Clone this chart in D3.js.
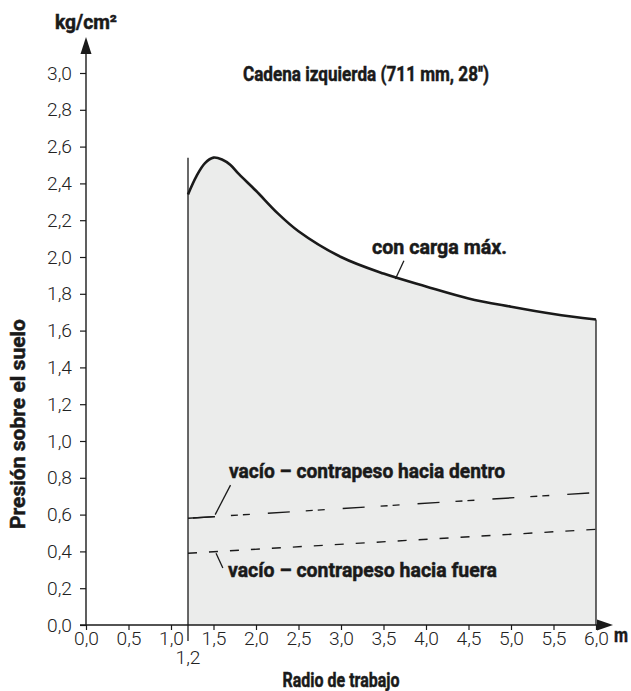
<!DOCTYPE html>
<html>
<head>
<meta charset="utf-8">
<script src="https://cdn.jsdelivr.net/npm/d3@7"></script>
<style>
  body { margin: 0; background: #fff; }
  svg { display: block; }
  text { font-variant-ligatures: none; }
</style>
</head>
<body>
<div id="container"></div>
<script>
// Data
const radius = [1.2, 1.3, 1.4, 1.5, 1.6, 1.7, 1.8, 2.0, 2.25, 2.5, 3.0, 3.5, 4.0, 4.5, 5.0, 5.5, 6.0];
const maxLoad = [2.34, 2.44, 2.51, 2.54, 2.53, 2.5, 2.45, 2.36, 2.24, 2.14, 2.0, 1.91, 1.84, 1.775, 1.73, 1.69, 1.66];
const emptyRadius = [1.2, 6.0];
const emptyInward = [0.58, 0.72];
const emptyOutward = [0.39, 0.52];
const xTicks = [0, 0.5, 1, 1.5, 2, 2.5, 3, 3.5, 4, 4.5, 5, 5.5, 6];
const yTicks = [0, 0.2, 0.4, 0.6, 0.8, 1, 1.2, 1.4, 1.6, 1.8, 2, 2.2, 2.4, 2.6, 2.8, 3];

const svgWidth = 631;
const svgHeight = 691;
const fontBold = "Roboto, 'DejaVu Sans Condensed', sans-serif";
const fontTick = "Roboto, 'DejaVu Sans Condensed', sans-serif";
const ink = '#1a1a1a';
const fmt = d => d3.format('.1f')(d).replace('.', ',');

const svg = d3
  .select('#container')
  .append('svg')
  .attr('width', svgWidth)
  .attr('height', svgHeight);

const xScale = d3.scaleLinear().domain([0, 6]).range([86, 596]);
const yScale = d3.scaleLinear().domain([0, 3]).range([625, 73]);

const curve = d3.curveCatmullRom.alpha(0.5);

// Filled area under the max load curve
const area = d3
  .area()
  .x((d, i) => xScale(radius[i]))
  .y0(yScale(0))
  .y1(d => yScale(d))
  .curve(curve);

svg
  .append('path')
  .datum(maxLoad)
  .attr('d', area)
  .attr('fill', '#ebeceb');

// Vertical boundaries at 1,2 and 6,0
svg
  .append('line')
  .attr('x1', xScale(1.2))
  .attr('x2', xScale(1.2))
  .attr('y1', yScale(0) + 16)
  .attr('y2', yScale(2.54))
  .attr('stroke', ink)
  .attr('stroke-width', 1.3);

svg
  .append('line')
  .attr('x1', xScale(6))
  .attr('x2', xScale(6))
  .attr('y1', yScale(0))
  .attr('y2', yScale(maxLoad[maxLoad.length - 1]))
  .attr('stroke', ink)
  .attr('stroke-width', 1.3);

// Max load curve
const line = d3
  .line()
  .x((d, i) => xScale(radius[i]))
  .y(d => yScale(d))
  .curve(curve);

svg
  .append('path')
  .datum(maxLoad)
  .attr('d', line)
  .attr('fill', 'none')
  .attr('stroke', ink)
  .attr('stroke-width', 2.6);

// Empty lines
const straight = d3
  .line()
  .x((d, i) => xScale(emptyRadius[i]))
  .y(d => yScale(d));

// inward: solid start, then short-short-long dashes
svg
  .append('path')
  .datum(emptyInward)
  .attr('d', straight)
  .attr('fill', 'none')
  .attr('stroke', ink)
  .attr('stroke-width', 1.4)
  .attr('stroke-dasharray', '7,5,7,18,22,16')
  .attr('stroke-dashoffset', -43);

svg
  .append('path')
  .datum(emptyInward)
  .attr('d', straight)
  .attr('fill', 'none')
  .attr('stroke', ink)
  .attr('stroke-width', 1.4)
  .attr('stroke-dasharray', '27,2000');

svg
  .append('path')
  .datum(emptyOutward)
  .attr('d', straight)
  .attr('fill', 'none')
  .attr('stroke', ink)
  .attr('stroke-width', 1.4)
  .attr('stroke-dasharray', '9,12');

// Axes
const xAxis = d3
  .axisBottom(xScale)
  .tickValues(xTicks)
  .tickSize(5)
  .tickPadding(2)
  .tickFormat(fmt);

const gx = svg
  .append('g')
  .attr('transform', `translate(0, ${yScale(0)})`)
  .call(xAxis);

const yAxis = d3
  .axisLeft(yScale)
  .tickValues(yTicks)
  .tickSize(6)
  .tickPadding(8)
  .tickFormat(fmt);

const gy = svg
  .append('g')
  .attr('transform', `translate(${xScale(0)}, 0)`)
  .call(yAxis);

[gx, gy].forEach(g => {
  g.select('.domain').remove();
  g.selectAll('line').attr('stroke', ink).attr('stroke-width', 1.2);
  g.selectAll('text')
    .attr('fill', '#222')
    .attr('textLength', 25)
    .attr('lengthAdjust', 'spacingAndGlyphs')
    .style('font-family', fontTick)
    .style('font-weight', 300)
    .style('font-size', '19px');
});

// axis lines with arrows
svg
  .append('line')
  .attr('x1', xScale(0) - 6)
  .attr('x2', 600)
  .attr('y1', yScale(0))
  .attr('y2', yScale(0))
  .attr('stroke', ink)
  .attr('stroke-width', 1.4);

svg
  .append('path')
  .attr('d', `M613,${yScale(0)} L597,${yScale(0) - 5.5} L597,${yScale(0) + 5.5} Z`)
  .attr('fill', ink);

svg
  .append('line')
  .attr('x1', xScale(0))
  .attr('x2', xScale(0))
  .attr('y1', yScale(0))
  .attr('y2', 50)
  .attr('stroke', ink)
  .attr('stroke-width', 1.4);

svg
  .append('path')
  .attr('d', `M${xScale(0)},37 L${xScale(0) - 5.5},54 L${xScale(0) + 5.5},54 Z`)
  .attr('fill', ink);

// Leader lines
const leaders = [
  [[3.74, 1.98], [3.64, 1.88]],
  [[1.52, 0.6], [1.7, 0.76]],
  [[1.53, 0.39], [1.61, 0.31]]
];
leaders.forEach(l => {
  svg
    .append('line')
    .attr('x1', xScale(l[0][0]))
    .attr('y1', yScale(l[0][1]))
    .attr('x2', xScale(l[1][0]))
    .attr('y2', yScale(l[1][1]))
    .attr('stroke', ink)
    .attr('stroke-width', 1.3);
});

// Texts (condensed heavy look via textLength + thin stroke)
const label = (x, y, txt, size, width, anchor) =>
  svg
    .append('text')
    .attr('x', x)
    .attr('y', y)
    .attr('text-anchor', anchor || 'start')
    .attr('textLength', width)
    .attr('lengthAdjust', 'spacingAndGlyphs')
    .attr('fill', ink)
    .attr('stroke', ink)
    .attr('stroke-width', 0.5)
    .style('font-family', fontBold)
    .style('font-weight', 'bold')
    .style('font-size', `${size}px`)
    .text(txt);

label(366, 81, "Cadena izquierda (711 mm, 28'')", 21, 246, 'middle');
label(372, 254, 'con carga máx.', 21, 135);
label(229, 478, 'vacío – contrapeso hacia dentro', 21, 276);
label(228, 577, 'vacío – contrapeso hacia fuera', 21, 269);
label(341, 687, 'Radio de trabajo', 21, 117, 'middle');
label(614, 642, 'm', 21, 14);
label(55, 29, 'kg/cm²', 20, 62);

svg
  .append('text')
  .attr('transform', 'translate(25, 424) rotate(-90)')
  .attr('text-anchor', 'middle')
  .attr('textLength', 210)
  .attr('lengthAdjust', 'spacingAndGlyphs')
  .attr('fill', ink)
  .attr('stroke', ink)
  .attr('stroke-width', 0.5)
  .style('font-family', fontBold)
  .style('font-weight', 'bold')
  .style('font-size', '21px')
  .text('Presión sobre el suelo');

svg
  .append('text')
  .attr('x', xScale(1.2))
  .attr('y', 664)
  .attr('text-anchor', 'middle')
  .attr('textLength', 25)
  .attr('lengthAdjust', 'spacingAndGlyphs')
  .attr('fill', '#222')
  .style('font-family', fontTick)
  .style('font-weight', 300)
  .style('font-size', '19px')
  .text(fmt(1.2));
</script>
</body>
</html>
